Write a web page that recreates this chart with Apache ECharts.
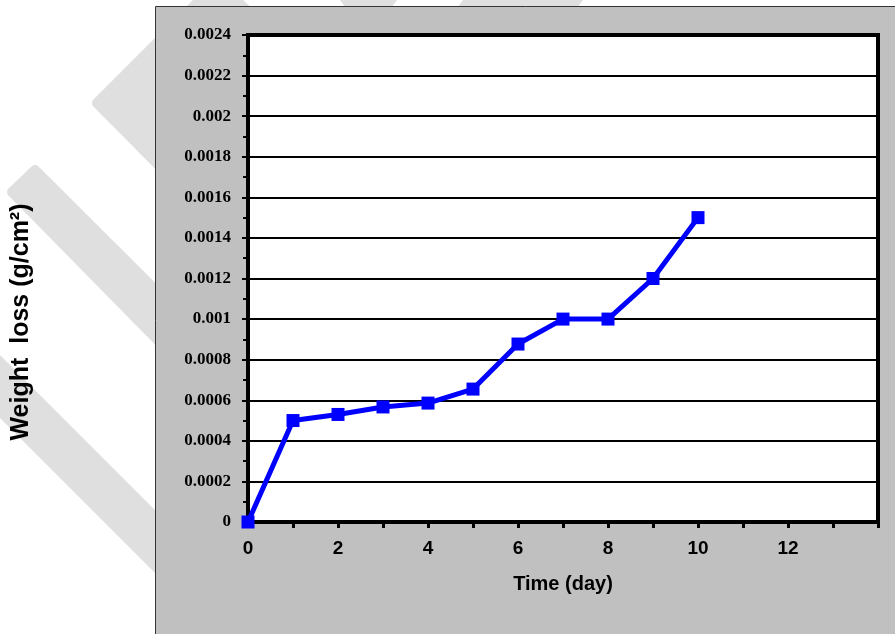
<!DOCTYPE html>
<html>
<head>
<meta charset="utf-8">
<script src="https://cdn.jsdelivr.net/npm/echarts@6/dist/echarts.min.js"></script>
<style>
html,body{margin:0;padding:0;background:#fff;}
#chart{width:895px;height:634px;}
</style>
</head>
<body>
<div id="chart"></div>
<script>
var days = [0, 1, 2, 3, 4, 5, 6, 7, 8, 9, 10];
var weightLoss = [0, 0.0005, 0.00053, 0.000567, 0.000586, 0.000655, 0.000877, 0.001, 0.001, 0.0012, 0.0015];
var xAxisTitle = 'Time (day)';
var yAxisTitle = 'Weight  loss (g/cm\u00B2)';

var chart = echarts.init(document.getElementById('chart'), null, {renderer: 'canvas'});
var wm = '#dfdfdf';
var option = {
  animation: false,
  backgroundColor: '#ffffff',
  graphic: [
    {type: 'polygon', z: -20, shape: {points: [[218,-18],[97,103],[495,505],[620,380]]}, style: {fill: wm, stroke: wm, lineWidth: 10, lineJoin: 'round'}},
    {type: 'polygon', z: -20, shape: {points: [[35,170],[12,192],[307,492],[333,467]]}, style: {fill: wm, stroke: wm, lineWidth: 10, lineJoin: 'round'}},
    {type: 'polygon', z: -20, shape: {points: [[-100,255],[-100,318],[300,718],[300,655]]}, style: {fill: wm}},
    {type: 'polygon', z: -20, shape: {points: [[340,0],[397,0],[391,8],[346,8]]}, style: {fill: wm}},
    {type: 'polygon', z: -20, shape: {points: [[463,0],[583,0],[577,8],[457,8]]}, style: {fill: wm}},
    {type: 'rect', z: -10, shape: {x: 155.5, y: 6.5, width: 760, height: 650}, style: {fill: '#c0c0c0', stroke: '#333333', lineWidth: 1}},
    {type: 'text', z: 10, x: 21, y: 322, rotation: Math.PI / 2,
     style: {text: yAxisTitle, fontSize: 25, fontWeight: 'bold', fontFamily: 'Liberation Sans, Arial, sans-serif', fill: '#000', align: 'center', verticalAlign: 'middle'}}
  ],
  grid: {
    left: 248, top: 35, right: 17, bottom: 112,
    show: true, backgroundColor: '#ffffff', borderColor: '#000000', borderWidth: 4
  },
  xAxis: {
    type: 'value', min: 0, max: 14, interval: 2,
    name: xAxisTitle, nameLocation: 'middle', nameGap: 52,
    nameTextStyle: {fontSize: 20, fontWeight: 'bold', fontFamily: 'Liberation Sans, Arial, sans-serif', color: '#000'},
    axisLine: {show: true, onZero: false, lineStyle: {color: '#000', width: 4}},
    axisTick: {show: true, length: 6, lineStyle: {color: '#000', width: 3}},
    minorTick: {show: true, splitNumber: 2, length: 6, lineStyle: {color: '#000', width: 3}},
    axisLabel: {showMaxLabel: false, margin: 17, fontSize: 19, fontWeight: 'bold', fontFamily: 'Liberation Sans, Arial, sans-serif', color: '#000'},
    splitLine: {show: false}
  },
  yAxis: {
    type: 'value', min: 0, max: 0.0024, interval: 0.0002,
    axisLine: {show: true, onZero: false, lineStyle: {color: '#000', width: 4}},
    axisTick: {show: true, length: 6, lineStyle: {color: '#000', width: 2}},
    minorTick: {show: true, splitNumber: 2, length: 5, lineStyle: {color: '#000', width: 2}},
    axisLabel: {margin: 17, fontSize: 17, fontWeight: 'bold', fontFamily: 'Liberation Serif, Times New Roman, serif', color: '#000'},
    splitLine: {show: true, lineStyle: {color: '#000', width: 2}}
  },
  series: [{
    type: 'line',
    data: days.map(function (d, i) { return [d, weightLoss[i]]; }),
    clip: false,
    symbol: 'rect', symbolSize: 13,
    lineStyle: {color: '#0000ff', width: 5},
    itemStyle: {color: '#0000ff'},
    z: 5
  }]
};
chart.setOption(option);
</script>
</body>
</html>
